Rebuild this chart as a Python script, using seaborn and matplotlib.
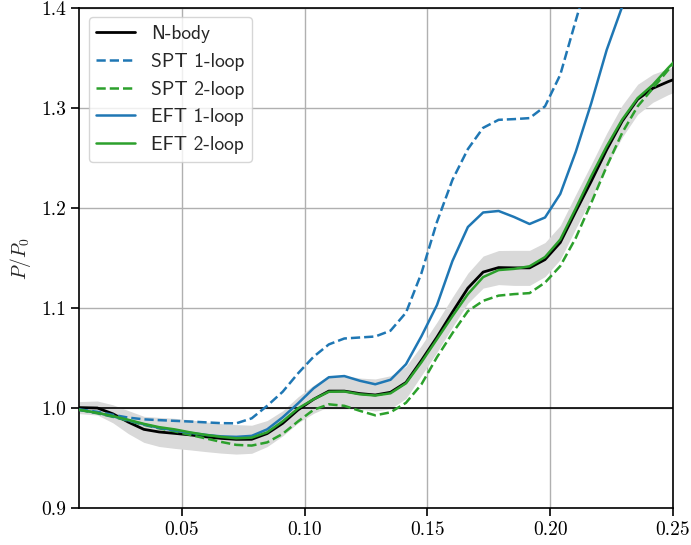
import numpy as np
import pandas as pd
import matplotlib
matplotlib.use("Agg")
import matplotlib.pyplot as plt
import seaborn as sns

k = [0.0082, 0.0157, 0.0220, 0.0283, 0.0346, 0.0408, 0.0471, 0.0534, 0.0597, 0.0660,
     0.0722, 0.0785, 0.0848, 0.0911, 0.0974, 0.1037, 0.1099, 0.1162, 0.1225, 0.1288,
     0.1350, 0.1413, 0.1476, 0.1539, 0.1602, 0.1665, 0.1727, 0.1790, 0.1853, 0.1916,
     0.1979, 0.2041, 0.2104, 0.2167, 0.2230, 0.2293, 0.2356, 0.2418, 0.2481, 0.2544]

nbody = [1.0007, 1.0003, 0.9945, 0.9862, 0.9790, 0.9764, 0.9750, 0.9735, 0.9716, 0.9700,
         0.9690, 0.9691, 0.9748, 0.9850, 0.9985, 1.0090, 1.0172, 1.0172, 1.0147, 1.0133,
         1.0160, 1.0258, 1.0478, 1.0710, 1.0960, 1.1200, 1.1360, 1.1405, 1.1402, 1.1402,
         1.1485, 1.1655, 1.1965, 1.2266, 1.2582, 1.2866, 1.3085, 1.3195, 1.3262, 1.3320]

nbody_err = [0.0060, 0.0070, 0.0090, 0.0115, 0.0130, 0.0145, 0.0150, 0.0150, 0.0148, 0.0147,
             0.0147, 0.0140, 0.0130, 0.0125, 0.0130, 0.0140, 0.0155, 0.0155, 0.0155, 0.0160,
             0.0165, 0.0160, 0.0150, 0.0150, 0.0150, 0.0150, 0.0160, 0.0170, 0.0175, 0.0175,
             0.0170, 0.0170, 0.0170, 0.0170, 0.0165, 0.0160, 0.0150, 0.0140, 0.0130, 0.0125]

spt1 = [0.9990, 0.9965, 0.9935, 0.9907, 0.9890, 0.9882, 0.9875, 0.9868, 0.9860, 0.9852,
        0.9850, 0.9900, 1.0025, 1.0165, 1.0350, 1.0515, 1.0638, 1.0697, 1.0707, 1.0717,
        1.0775, 1.0955, 1.1350, 1.1860, 1.2280, 1.2588, 1.2800, 1.2880, 1.2887, 1.2897,
        1.3015, 1.3330, 1.3870, 1.4400, 1.5000, 1.5600, 1.6200, 1.6800, 1.7400, 1.8000]

spt2 = [0.9985, 0.9950, 0.9915, 0.9875, 0.9835, 0.9800, 0.9770, 0.9735, 0.9700, 0.9665,
        0.9635, 0.9628, 0.9660, 0.9745, 0.9870, 0.9985, 1.0040, 1.0025, 0.9975, 0.9930,
        0.9960, 1.0055, 1.0240, 1.0510, 1.0750, 1.0970, 1.1073, 1.1125, 1.1140, 1.1150,
        1.1255, 1.1420, 1.1700, 1.2050, 1.2415, 1.2750, 1.3015, 1.3195, 1.3380, 1.3560]

eft1 = [0.9985, 0.9955, 0.9920, 0.9880, 0.9840, 0.9805, 0.9780, 0.9755, 0.9735, 0.9720,
        0.9715, 0.9725, 0.9790, 0.9910, 1.0050, 1.0200, 1.0310, 1.0322, 1.0275, 1.0240,
        1.0285, 1.0440, 1.0720, 1.1030, 1.1470, 1.1810, 1.1955, 1.1970, 1.1910, 1.1840,
        1.1905, 1.2140, 1.2560, 1.3045, 1.3578, 1.4010, 1.4500, 1.5000, 1.5500, 1.6000]

eft2 = [0.9985, 0.9955, 0.9923, 0.9885, 0.9845, 0.9812, 0.9790, 0.9760, 0.9735, 0.9715,
        0.9701, 0.9707, 0.9760, 0.9870, 1.0000, 1.0090, 1.0165, 1.0168, 1.0140, 1.0128,
        1.0150, 1.0250, 1.0460, 1.0690, 1.0920, 1.1140, 1.1310, 1.1380, 1.1392, 1.1418,
        1.1510, 1.1685, 1.1995, 1.2316, 1.2615, 1.2882, 1.3097, 1.3230, 1.3400, 1.3560]

x_ticks = [0.05, 0.10, 0.15, 0.20, 0.25]
x_tick_labels = ["0.05", "0.10", "0.15", "0.20", "0.25"]
y_ticks = [0.9, 1.0, 1.1, 1.2, 1.3, 1.4]
y_tick_labels = ["0.9", "1.0", "1.1", "1.2", "1.3", "1.4"]

sns.set_theme(style="ticks")
plt.rcParams["mathtext.fontset"] = "cm"
plt.rcParams["axes.formatter.use_mathtext"] = True

fig = plt.figure(figsize=(6.91, 5.45), dpi=100)
ax = fig.add_axes([0.1143, 0.067, 0.8597, 0.919])

kk = np.array(k)
nb = np.array(nbody)
er = np.array(nbody_err)
ax.fill_between(kk, nb - er, nb + er, color="#d9d9d9", lw=0, zorder=1)
ax.axhline(1.0, color="black", lw=1.2, zorder=2)

sns.lineplot(x=k, y=nbody, ax=ax, color="black", lw=2.0, label="N-body", sort=False, zorder=3)
sns.lineplot(x=k, y=spt1, ax=ax, color="#1f77b4", lw=1.8, linestyle="--", label="SPT 1-loop", sort=False, zorder=3)
sns.lineplot(x=k, y=spt2, ax=ax, color="#2ca02c", lw=1.8, linestyle="--", label="SPT 2-loop", sort=False, zorder=3)
sns.lineplot(x=k, y=eft1, ax=ax, color="#1f77b4", lw=1.8, label="EFT 1-loop", sort=False, zorder=3)
sns.lineplot(x=k, y=eft2, ax=ax, color="#2ca02c", lw=1.8, label="EFT 2-loop", sort=False, zorder=3)

ax.set_xlim(0.0082, 0.25)
ax.set_ylim(0.9, 1.4)
ax.set_xticks(x_ticks)
ax.set_xticklabels(x_tick_labels, fontfamily="cmr10", fontsize=14)
ax.set_yticks(y_ticks)
ax.set_yticklabels(y_tick_labels, fontfamily="cmr10", fontsize=14)
ax.set_xlabel("")
ax.set_ylabel("$P/P_0$", fontsize=14, labelpad=6)
ax.grid(True, color="#b0b0b0", lw=1.0, zorder=0)
ax.set_axisbelow(True)
for s in ax.spines.values():
    s.set_color("black")
    s.set_linewidth(1.2)
ax.tick_params(direction="out", length=5.5, width=1.2, colors="black", top=False, right=False)

leg = ax.legend(loc="upper left", prop={"family": "cmss10", "size": 14}, framealpha=0.8,
                fancybox=True, edgecolor="#cccccc", handlelength=2.0, borderaxespad=0.5)

fig.savefig("out.png", dpi=100)
